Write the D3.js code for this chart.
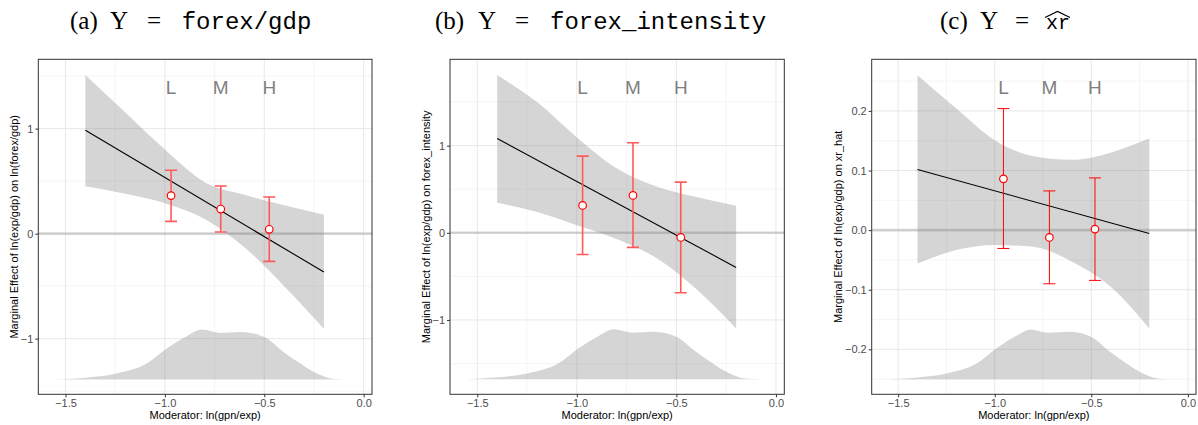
<!DOCTYPE html>
<html>
<head>
<meta charset="utf-8">
<script src="https://cdnjs.cloudflare.com/ajax/libs/d3/7.8.5/d3.min.js"></script>
<style>
  body { margin: 0; background: #fff; }
  .tick text { font-family: "Liberation Sans", Arial, sans-serif; font-size: 11px; fill: #4d4d4d; }
  .tick line { stroke: #333; }
</style>
</head>
<body>
<div id="chart"></div>
<script>
// Shared values
const xTicks = [-1.5, -1.0, -0.5, 0.0];
const xDomain = [-1.637, 0.042];
const binLabels = ['L', 'M', 'H'];
const lineX = [-1.4, -0.2];
const bandX = [-1.4, -1.2, -1.0, -0.8, -0.6, -0.4, -0.2];

// moderator density (relative height)
const densX = [-1.554, -1.411, -1.243, -1.092, -0.991, -0.890, -0.815, -0.722, -0.621, -0.537, -0.495, -0.403, -0.319, -0.235, -0.151, -0.050];
const densH = [0, 0.033, 0.12, 0.32, 0.62, 0.867, 1.0, 0.933, 0.953, 0.907, 0.84, 0.553, 0.32, 0.12, 0.013, 0];

// (a) forex/gdp
const aYDomain = [-1.53, 1.66];
const aYTicks = [-1, 0, 1];
const aLine = [0.984, -0.366];
const aUpper = [1.51, 1.155, 0.80, 0.49, 0.37, 0.27, 0.18];
const aLower = [0.45, 0.38, 0.29, 0.14, -0.13, -0.50, -0.905];
const aBinX = [-0.969, -0.719, -0.475];
const aEst = [0.362, 0.234, 0.041];
const aLo = [0.117, 0.015, -0.264];
const aHi = [0.603, 0.453, 0.349];
const aDens = [-1.39, -0.914];

// (b) forex_intensity
const bYDomain = [-1.853, 1.991];
const bYTicks = [-1, 0, 1];
const bLine = [1.083, -0.397];
const bUpper = [1.81, 1.50, 1.095, 0.74, 0.53, 0.41, 0.31];
const bLower = [0.344, 0.24, 0.088, -0.07, -0.29, -0.646, -1.097];
const bBinX = [-0.971, -0.718, -0.478];
const bEst = [0.314, 0.429, -0.053];
const bLo = [-0.248, -0.167, -0.688];
const bHi = [0.88, 1.033, 0.582];
const bDens = [-1.68, -1.107];

// (c) xr_hat
const cYDomain = [-0.2754, 0.2866];
const cYTicks = [-0.2, -0.1, 0.0, 0.1, 0.2];
const cLine = [0.1017, -0.0056];
const cUpper = [0.260, 0.2045, 0.151, 0.124, 0.118, 0.130, 0.154];
const cLower = [-0.056, -0.0335, -0.025, -0.028, -0.053, -0.095, -0.165];
const cBinX = [-0.955, -0.717, -0.481];
const cEst = [0.086, -0.0123, 0.0017];
const cLo = [-0.0307, -0.09, -0.0843];
const cHi = [0.2039, 0.0658, 0.0876];
const cDens = [-0.2503, -0.1665];

const W = 1198, H = 425;
const sans = '"Liberation Sans", Arial, sans-serif';

const panels = [
  { id: 'a', left: 38.3, right: 372, yDomain: aYDomain, yTicks: aYTicks, yFmt: d3.format('d'),
    line: aLine, upper: aUpper, lower: aLower, binX: aBinX, est: aEst, lo: aLo, hi: aHi, dens: aDens,
    yTitle: 'Marginal Effect of ln(exp/gdp) on ln(forex/gdp)', yTitleX: 18,
    barColor: '#ff5a5a', barWidth: 1.6,
    title: { paren: '(a)', x: [70, 110, 147, 181.7], tt: 'forex/gdp', ttSize: 24 } },
  { id: 'b', left: 450, right: 784.3, yDomain: bYDomain, yTicks: bYTicks, yFmt: d3.format('d'),
    line: bLine, upper: bUpper, lower: bLower, binX: bBinX, est: bEst, lo: bLo, hi: bHi, dens: bDens,
    yTitle: 'Marginal Effect of ln(exp/gdp) on forex_intensity', yTitleX: 430,
    barColor: '#ff5a5a', barWidth: 1.6,
    title: { paren: '(b)', x: [435, 478, 515, 550], tt: 'forex_intensity', ttSize: 24 } },
  { id: 'c', left: 871.7, right: 1196, yDomain: cYDomain, yTicks: cYTicks, yFmt: d3.format('.1f'),
    line: cLine, upper: cUpper, lower: cLower, binX: cBinX, est: cEst, lo: cLo, hi: cHi, dens: cDens,
    yTitle: 'Marginal Effect of ln(exp/gdp) on xr_hat', yTitleX: 842,
    barColor: '#ff0000', barWidth: 1,
    title: { paren: '(c)', x: [940, 980, 1015, 1046], tt: 'xr', ttSize: 20, hat: true } }
];
const plotTop = 59.3, plotBottom = 394.3;

const svg = d3.select('#chart').append('svg')
  .attr('width', W).attr('height', H)
  .attr('viewBox', `0 0 ${W} ${H}`)
  .style('font-family', sans);

svg.append('rect').attr('width', W).attr('height', H).attr('fill', '#fff');

panels.forEach(p => {
  const x = d3.scaleLinear().domain(xDomain).range([p.left, p.right]);
  const y = d3.scaleLinear().domain(p.yDomain).range([plotBottom, plotTop]);
  const g = svg.append('g');

  g.append('clipPath').attr('id', 'clip-' + p.id)
    .append('rect').attr('x', p.left).attr('y', plotTop)
    .attr('width', p.right - p.left).attr('height', plotBottom - plotTop);

  const plot = g.append('g').attr('clip-path', `url(#clip-${p.id})`);

  // grid: minor then major
  const step = p.yTicks[1] - p.yTicks[0];
  const yMinor = [p.yTicks[0] - step / 2, ...p.yTicks.map(t => t + step / 2)];
  const xMinor = [-1.75, ...xTicks.map(t => t + 0.25)];
  plot.selectAll('.gx-minor').data(xMinor).join('line')
    .attr('x1', d => x(d)).attr('x2', d => x(d)).attr('y1', plotTop).attr('y2', plotBottom)
    .attr('stroke', '#f2f2f2').attr('stroke-width', 0.8);
  plot.selectAll('.gy-minor').data(yMinor).join('line')
    .attr('y1', d => y(d)).attr('y2', d => y(d)).attr('x1', p.left).attr('x2', p.right)
    .attr('stroke', '#f2f2f2').attr('stroke-width', 0.8);
  plot.selectAll('.gx-major').data(xTicks).join('line')
    .attr('x1', d => x(d)).attr('x2', d => x(d)).attr('y1', plotTop).attr('y2', plotBottom)
    .attr('stroke', '#e8e8e8').attr('stroke-width', 1);
  plot.selectAll('.gy-major').data(p.yTicks).join('line')
    .attr('y1', d => y(d)).attr('y2', d => y(d)).attr('x1', p.left).attr('x2', p.right)
    .attr('stroke', '#e8e8e8').attr('stroke-width', 1);

  // zero reference line
  plot.append('line')
    .attr('x1', p.left).attr('x2', p.right).attr('y1', y(0)).attr('y2', y(0))
    .attr('stroke', '#8c8c8c').attr('stroke-opacity', 0.35).attr('stroke-width', 2.6);

  // confidence band
  const band = bandX.map((bx, i) => ({ x: bx, lo: p.lower[i], hi: p.upper[i] }));
  plot.append('path').datum(band)
    .attr('d', d3.area().x(d => x(d.x)).y0(d => y(d.lo)).y1(d => y(d.hi)).curve(d3.curveMonotoneX))
    .attr('fill', '#808080').attr('fill-opacity', 0.33);

  // density of the moderator
  const dens = densX.map((dx, i) => ({ x: dx, h: densH[i] }));
  const dy = d3.scaleLinear().domain([0, 1]).range(p.dens);
  plot.append('path').datum(dens)
    .attr('d', d3.area().x(d => x(d.x)).y0(y(p.dens[0])).y1(d => y(dy(d.h))).curve(d3.curveMonotoneX))
    .attr('fill', '#808080').attr('fill-opacity', 0.33);

  // marginal effect line
  plot.append('path').datum(lineX.map((lx, i) => [lx, p.line[i]]))
    .attr('d', d3.line().x(d => x(d[0])).y(d => y(d[1])))
    .attr('stroke', '#000').attr('stroke-width', 1.1).attr('fill', 'none');

  // binned estimates
  const bins = p.binX.map((bx, i) => ({ x: bx, est: p.est[i], lo: p.lo[i], hi: p.hi[i], label: binLabels[i] }));
  const eb = plot.selectAll('.eb').data(bins).join('g')
    .attr('stroke', p.barColor).attr('stroke-width', p.barWidth);
  eb.append('line').attr('x1', d => x(d.x)).attr('x2', d => x(d.x))
    .attr('y1', d => y(d.lo)).attr('y2', d => y(d.hi));
  eb.append('line').attr('x1', d => x(d.x) - 6).attr('x2', d => x(d.x) + 6)
    .attr('y1', d => y(d.lo)).attr('y2', d => y(d.lo));
  eb.append('line').attr('x1', d => x(d.x) - 6).attr('x2', d => x(d.x) + 6)
    .attr('y1', d => y(d.hi)).attr('y2', d => y(d.hi));
  plot.selectAll('.pt').data(bins).join('circle')
    .attr('cx', d => x(d.x)).attr('cy', d => y(d.est)).attr('r', 3.8)
    .attr('fill', '#fff').attr('stroke', '#ff0000').attr('stroke-width', 1.2);
  plot.selectAll('.lab').data(bins).join('text')
    .attr('x', d => x(d.x)).attr('y', plotTop + 35)
    .attr('text-anchor', 'middle').attr('font-size', 19).attr('fill', '#7f7f7f')
    .text(d => d.label);

  // border
  g.append('rect').attr('x', p.left).attr('y', plotTop)
    .attr('width', p.right - p.left).attr('height', plotBottom - plotTop)
    .attr('fill', 'none').attr('stroke', '#333').attr('stroke-width', 1);

  // axes
  g.append('g').attr('transform', `translate(0,${plotBottom})`)
    .call(d3.axisBottom(x).tickValues(xTicks).tickFormat(d3.format('.1f')).tickSize(3).tickPadding(2))
    .call(a => a.select('.domain').remove());
  g.append('g').attr('transform', `translate(${p.left},0)`)
    .call(d3.axisLeft(y).tickValues(p.yTicks).tickFormat(p.yFmt).tickSize(3).tickPadding(2))
    .call(a => a.select('.domain').remove());

  // axis titles
  g.append('text').attr('x', (p.left + p.right) / 2).attr('y', 418.5)
    .attr('text-anchor', 'middle').attr('font-size', 11).attr('fill', '#000')
    .text('Moderator: ln(gpn/exp)');
  g.append('text')
    .attr('transform', `translate(${p.yTitleX},${(plotTop + plotBottom) / 2}) rotate(-90)`)
    .attr('text-anchor', 'middle').attr('font-size', 11).attr('fill', '#000')
    .text(p.yTitle);

  // panel caption
  const t = p.title;
  const serif = '"Liberation Serif", "Times New Roman", serif';
  const cap = svg.append('g').attr('font-size', 25).attr('fill', '#000');
  cap.append('text').attr('x', t.x[0]).attr('y', 29.3).attr('font-family', serif).text(t.paren);
  cap.append('text').attr('x', t.x[1]).attr('y', 29.3).attr('font-family', serif).text('Y');
  cap.append('text').attr('x', t.x[2]).attr('y', 29.3).attr('font-family', serif).text('=');
  cap.append('text').attr('x', t.x[3]).attr('y', 29.3)
    .attr('font-family', '"Liberation Mono", "Courier New", monospace').attr('font-size', t.ttSize)
    .text(t.tt);
  if (t.hat) {
    cap.append('path')
      .attr('d', `M${t.x[3] - 1},17.5 L${t.x[3] + 11.5},11.5 L${t.x[3] + 24},17.5`)
      .attr('fill', 'none').attr('stroke', '#000').attr('stroke-width', 1.2);
  }
});
</script>
</body>
</html>
